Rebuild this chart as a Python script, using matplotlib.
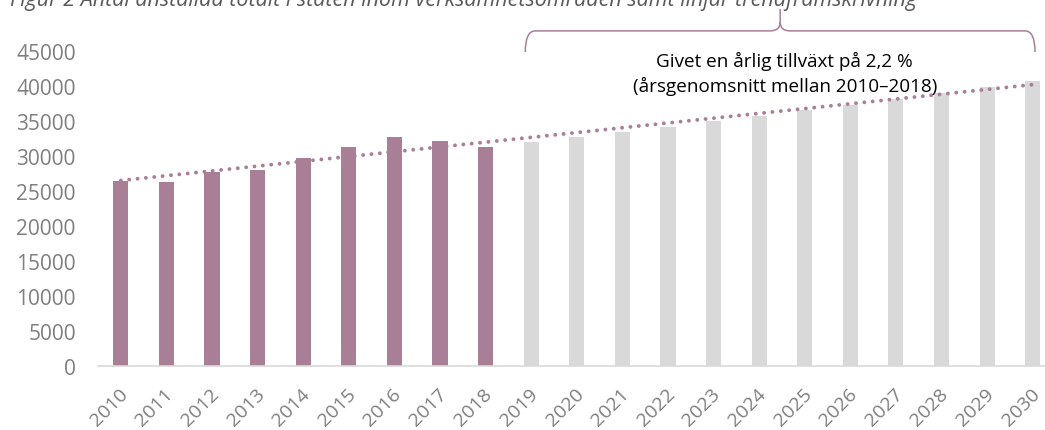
import numpy as np
import matplotlib
matplotlib.use('Agg')
import matplotlib.pyplot as plt
from matplotlib.path import Path
from matplotlib.patches import PathPatch
import matplotlib.transforms as mtransforms

plt.rcParams['font.family'] = ['Open Sans', 'DejaVu Sans']

# Data
years = [str(y) for y in range(2010, 2031)]
historical = [26400, 26300, 27600, 27900, 29600, 31300, 32600, 32100, 31300]
forecast = [32000, 32700, 33400, 34100, 35000, 35700, 36500, 37300, 38100, 39000, 39800, 40700]
title = 'Figur 2 Antal anställda totalt i staten inom verksamhetsområden samt linjär trendframskrivning'
note = 'Givet en årlig tillväxt på 2,2 %\n(årsgenomsnitt mellan 2010–2018)'

purple = '#A87F97'
grey = '#D9D9D9'
text_grey = '#7F7F7F'

values = historical + forecast
x = np.arange(len(years))
colors = [purple] * len(historical) + [grey] * len(forecast)

fig = plt.figure(figsize=(10.45, 4.31), dpi=100)
ax = fig.add_axes([0.0938, 0.1492, 0.9163, 0.7309])

ax.bar(x, values, width=0.33, color=colors, zorder=2)

# linear trend over all bars
k, m = np.polyfit(x, values, 1)
xt = np.array([x[0], x[-1]])
ax.plot(xt, k * xt + m, color=purple, linewidth=2.8, linestyle=(0, (0.01, 2.15)),
        dash_capstyle='round', zorder=3)

ax.set_xlim(-0.5, len(years) - 0.5)
ax.set_ylim(0, 45000)
ax.set_yticks(range(0, 45001, 5000))
ax.set_yticklabels([str(v) for v in range(0, 45001, 5000)])
ax.set_xticks(x)
ax.set_xticklabels(years, rotation=45, ha='right', va='center', rotation_mode='anchor')
ax.tick_params(axis='y', length=0, pad=16, labelsize=15, labelcolor=text_grey)
ax.tick_params(axis='x', length=0, pad=18, labelsize=14, labelcolor=text_grey)
for lab in ax.get_xticklabels():
    lab.set_transform(lab.get_transform() + mtransforms.ScaledTranslation(4 / 100, 0, fig.dpi_scale_trans))

for s in ['top', 'right', 'left']:
    ax.spines[s].set_visible(False)
ax.spines['bottom'].set_color(grey)
ax.spines['bottom'].set_linewidth(1.2)

# curly brace over the forecast years
tr = mtransforms.blended_transform_factory(ax.transData, fig.transFigure)
x0, x1, xm = 8.87, 20.05, 14.46
yb, yt, ytip = 0.877, 0.926, 0.977
dx = 0.22
dy = 0.02
verts = [(x0, yb), (x0, yt), (x0 + dx, yt),
         (xm - dx, yt), (xm, yt), (xm, yt + dy),
         (xm, ytip),
         (xm, yt + dy), (xm, yt), (xm + dx, yt),
         (x1 - dx, yt), (x1, yt), (x1, yb)]
codes = [Path.MOVETO, Path.CURVE3, Path.CURVE3,
         Path.LINETO, Path.CURVE3, Path.CURVE3,
         Path.LINETO,
         Path.MOVETO, Path.CURVE3, Path.CURVE3,
         Path.LINETO, Path.CURVE3, Path.CURVE3]
brace = PathPatch(Path(verts, codes), facecolor='none', edgecolor=purple, linewidth=1.1,
                  transform=tr, clip_on=False)
ax.add_patch(brace)

ax.text(14.56, 1 - 74 / 431, note, transform=tr, ha='center', va='center',
        fontsize=13.6, color='black', linespacing=1.45)

fig.text(10 / 1045, 1 - 6 / 431, title, ha='left', va='baseline', style='italic',
         fontsize=15.5, color='#595959')

fig.savefig('out.png', dpi=100)
